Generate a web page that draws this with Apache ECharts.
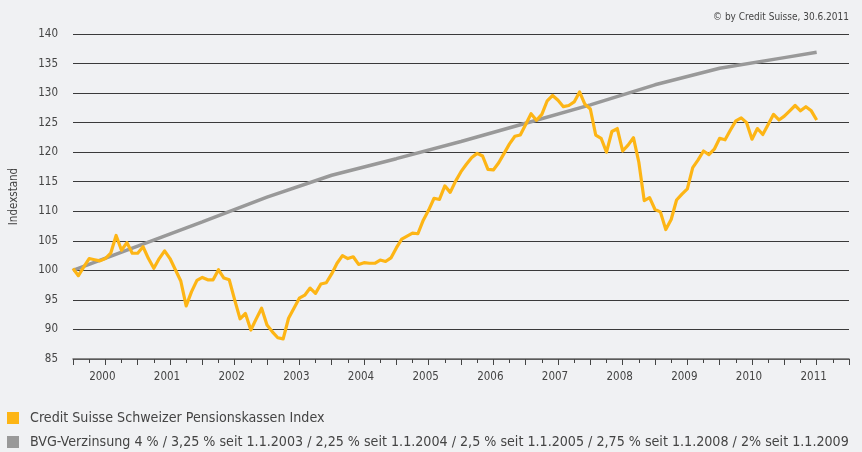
<!DOCTYPE html>
<html>
<head>
<meta charset="utf-8">
<script src="https://cdn.jsdelivr.net/npm/echarts@6/dist/echarts.min.js"></script>
<style>
html,body{margin:0;padding:0;background:#f0f1f3;}
#c{width:862px;height:452px;}
</style>
</head>
<body>
<div id="c"></div>
<script>
// Month index 0 = 1.1.2000, 138 = 30.6.2011
const years = [2000, 2001, 2002, 2003, 2004, 2005, 2006, 2007, 2008, 2009, 2010, 2011];
const yTicks = [85, 90, 95, 100, 105, 110, 115, 120, 125, 130, 135, 140];
const csIndexName = 'Credit Suisse Schweizer Pensionskassen Index';
const bvgName = 'BVG-Verzinsung 4 % / 3,25 % seit 1.1.2003 / 2,25 % seit 1.1.2004 / 2,5 % seit 1.1.2005 / 2,75 % seit 1.1.2008 / 2% seit 1.1.2009';
const csIndexValues = [
  100.3, 99.1, 100.6, 102.0, 101.8, 101.6, 102.0, 102.9, 105.9, 103.4, 104.7, 102.9,
  102.9, 104.0, 102.0, 100.35, 102.0, 103.3, 102.0, 100.1, 98.2, 94.0, 96.4, 98.3,
  98.8, 98.4, 98.4, 100.1, 98.7, 98.4, 95.0, 91.8, 92.7, 89.9, 91.8, 93.6,
  90.75, 89.6, 88.6, 88.4, 91.9, 93.6, 95.3, 95.8, 97.0, 96.1, 97.7, 97.9,
  99.4, 101.2, 102.5, 102.0, 102.3, 101.0, 101.3, 101.2, 101.2, 101.75, 101.5, 102.1,
  103.8, 105.3, 105.8, 106.3, 106.2, 108.5, 110.2, 112.2, 112.0, 114.3, 113.2, 115.1,
  116.7, 117.95, 119.1, 119.8, 119.35, 117.1, 117.0, 118.2, 119.8, 121.4, 122.7, 122.9,
  124.7, 126.5, 125.4, 126.4, 128.7, 129.6, 128.8, 127.7, 127.9, 128.5, 130.2, 128.1,
  127.3, 122.9, 122.35, 120.0, 123.5, 124.0, 120.2, 121.2, 122.45, 118.3, 111.8, 112.3,
  110.3, 109.9, 106.9, 108.6, 111.9, 112.9, 113.8, 117.4, 118.7, 120.2, 119.6, 120.5,
  122.35, 122.1, 123.75, 125.3, 125.8, 125.0, 122.2, 124.0, 123.0, 124.7, 126.4, 125.45,
  126.1, 127.0, 127.9, 127.0, 127.7, 127.0, 125.45
];
const bvgMonths = [0, 12, 24, 36, 48, 60, 72, 84, 96, 108, 120, 132, 138];
const bvgValues = [100, 104.1, 108.2, 112.4, 116.1, 118.9, 121.8, 124.9, 128.0, 131.4, 134.2, 136.0, 136.9];

const csData = csIndexValues.map((v, i) => [i, v]);
const bvgData = bvgMonths.map((m, i) => [m, bvgValues[i]]);

const FONT = '"Liberation Sans Narrow", "DejaVu Sans Condensed", "Roboto", sans-serif';
const chart = echarts.init(document.getElementById('c'), null, {renderer: 'canvas'});
chart.setOption({
  backgroundColor: '#f0f1f3',
  animation: false,
  textStyle: {fontFamily: FONT},
  title: {
    text: '© by Credit Suisse, 30.6.2011',
    right: 8, top: 7,
    textStyle: {fontFamily: FONT, fontSize: 10, fontWeight: 'normal', color: '#444'}
  },
  legend: {
    orient: 'vertical',
    left: 2, top: 406,
    height: 80,
    itemWidth: 12, itemHeight: 12,
    itemGap: 10,
    icon: 'rect',
    data: [csIndexName, bvgName],
    textStyle: {fontFamily: FONT, fontSize: 14.15, color: '#444', padding: [0, 0, 0, 6]}
  },
  grid: {left: 70, right: 13, top: 34, bottom: 93, containLabel: false},
  xAxis: {
    type: 'value',
    min: 0, max: 144, interval: 6,
    axisLine: {show: true, onZero: false, lineStyle: {color: '#666', width: 1.5}},
    axisTick: {show: true, length: 6, lineStyle: {color: '#444', width: 1}},
    minorTick: {show: true, splitNumber: 2, length: 4, lineStyle: {color: '#444', width: 1}},
    splitLine: {show: false},
    minorSplitLine: {show: false},
    axisLabel: {
      margin: 12,
      fontFamily: FONT, fontSize: 11.5, color: '#444',
      padding: [0, 6, 0, 0],
      formatter: function (v) {
        if (v % 12 === 6) { const y = years[(v - 6) / 12]; return y === undefined ? '' : String(y); }
        return '';
      }
    }
  },
  yAxis: {
    type: 'value',
    min: yTicks[0], max: yTicks[yTicks.length - 1], interval: 5,
    name: 'Indexstand',
    nameLocation: 'middle',
    nameGap: 53,
    nameTextStyle: {fontFamily: FONT, fontSize: 11.5, color: '#444'},
    axisLine: {show: false},
    axisTick: {show: false},
    axisLabel: {margin: 15, fontFamily: FONT, fontSize: 11.5, color: '#444'},
    splitLine: {show: true, lineStyle: {color: '#3a3a3a', width: 1.2}}
  },
  series: [
    {
      name: csIndexName,
      type: 'line',
      data: csData,
      symbol: 'none',
      z: 4,
      color: '#fdb515',
      lineStyle: {color: '#fdb515', width: 3.2, join: 'round'}
    },
    {
      name: bvgName,
      type: 'line',
      data: bvgData,
      symbol: 'none',
      z: 3,
      color: '#999999',
      lineStyle: {color: '#999999', width: 3.5}
    }
  ]
});
</script>
</body>
</html>
